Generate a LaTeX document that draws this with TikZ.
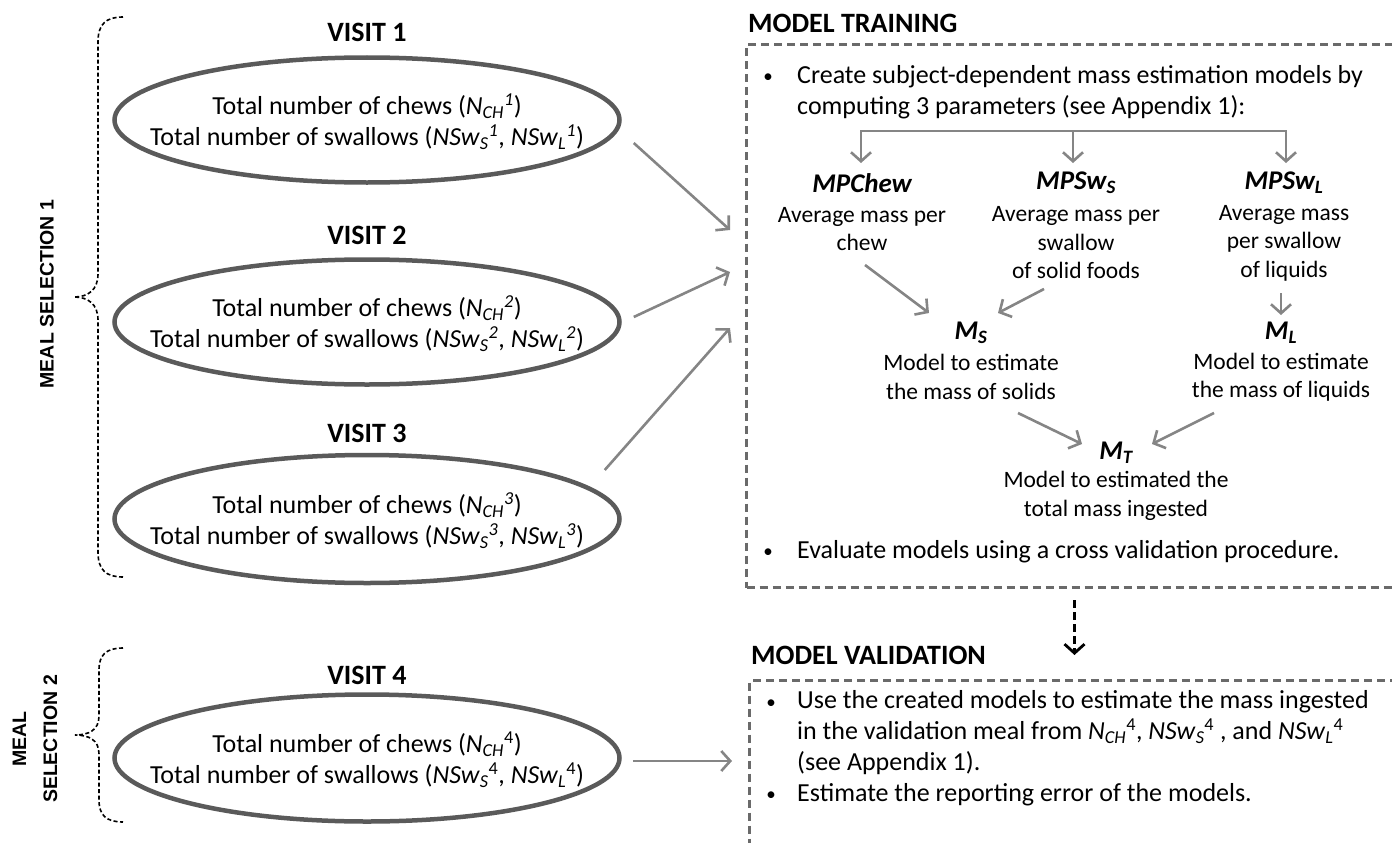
\documentclass[tikz,border=0pt]{standalone}
\usepackage{fontspec}
\setmainfont{Carlito}
\newfontfamily\arialfont{Liberation Sans}
\usetikzlibrary{arrows.meta,calc,shapes.geometric}
\definecolor{ellc}{HTML}{5A5A5A}
\definecolor{arrc}{HTML}{858585}
\definecolor{boxc}{HTML}{6A6A6A}
\newcommand\sbs[1]{\textsubscript{#1}}
\newcommand\sps[1]{\textsuperscript{#1}}
\begin{document}
\begin{tikzpicture}[x=1pt,y=-1pt,
 ttl/.style={font=\bfseries\fontsize{28}{33}\selectfont,inner sep=0pt},
 body/.style={font=\fontsize{26}{31}\selectfont,inner sep=0pt,align=left},
 bul/.style={font=\fontsize{19}{22}\selectfont,inner sep=0pt},
 etext/.style={font=\fontsize{26}{31}\selectfont,inner sep=0pt,align=center},
 lab/.style={font=\fontsize{23.5}{28.5}\selectfont,inner sep=0pt,align=center},
 hd/.style={font=\bfseries\itshape\fontsize{27}{32}\selectfont,inner sep=0pt},
 ell/.style={ellipse,draw=ellc,line width=4.5pt,minimum width=505pt,minimum height=125pt,inner sep=0pt},
 garr/.style={draw=arrc,line width=2.6pt,-{Straight Barb[length=9pt,width=20pt]}},
 garrboth/.style={draw=arrc,line width=2.6pt,{Straight Barb[length=9pt,width=20pt]}-{Straight Barb[length=9pt,width=20pt]}},
 darr/.style={draw=black,line width=2.8pt,dash pattern=on 8pt off 4pt,-{Straight Barb[length=9pt,width=20pt]}},
 dbox/.style={draw=boxc,line width=3pt,dash pattern=on 8pt off 5pt,inner sep=0pt,anchor=north west},
 brace/.style={draw=black,line width=1.6pt,dash pattern=on 4pt off 2.5pt},
 side/.style={font=\arialfont\bfseries\fontsize{19.5}{31}\selectfont,rotate=90,align=center,inner sep=0pt}
]
\path[use as bounding box] (0,0) rectangle (1392,843);
\clip (0,0) rectangle (1392,843);

% ---------- left column ----------
\node[side] (ms1) at (47,294) {MEAL SELECTION 1};
\node[side] (ms2) at (35,739) {MEAL\\SELECTION 2};

\draw[brace] (123,17) .. controls (106,17) and (98,24) .. (98,42) -- (98,274)
  .. controls (98,290) and (88,297) .. (74,297)
  .. controls (88,297) and (98,304) .. (98,320) -- (98,552)
  .. controls (98,570) and (106,577) .. (123,577);
\draw[brace] (123,648) .. controls (106,648) and (99,655) .. (99,670) -- (99,716)
  .. controls (99,730) and (89,735) .. (75,735)
  .. controls (89,735) and (99,740) .. (99,754) -- (99,800)
  .. controls (99,815) and (106,822) .. (123,822);

\node[ttl] (v1) at (367,32) {VISIT 1};
\node[ell] (e1) at (367,120) {};
\node[etext] (t1) at (367,122) {Total number of chews (\textit{N}\sbs{\textit{CH}}\sps{\textit{1}})\\Total number of swallows (\textit{NSw}\sbs{\textit{S}}\sps{\textit{1}}, \textit{NSw}\sbs{\textit{L}}\sps{\textit{1}})};

\node[ttl] (v2) at (367,235) {VISIT 2};
\node[ell] (e2) at (367,322) {};
\node[etext] (t2) at (367,324) {Total number of chews (\textit{N}\sbs{\textit{CH}}\sps{\textit{2}})\\Total number of swallows (\textit{NSw}\sbs{\textit{S}}\sps{\textit{2}}, \textit{NSw}\sbs{\textit{L}}\sps{\textit{2}})};

\node[ttl] (v3) at (367,433) {VISIT 3};
\node[ell,minimum height=128pt] (e3) at (367,519) {};
\node[etext] (t3) at (367,521) {Total number of chews (\textit{N}\sbs{\textit{CH}}\sps{\textit{3}})\\Total number of swallows (\textit{NSw}\sbs{\textit{S}}\sps{\textit{3}}, \textit{NSw}\sbs{\textit{L}}\sps{\textit{3}})};

\node[ttl] (v4) at (367,675) {VISIT 4};
\node[ell,minimum height=127pt] (e4) at (367,758) {};
\node[etext] (t4) at (367,760) {Total number of chews (\textit{N}\sbs{\textit{CH}}\sps{4})\\Total number of swallows (\textit{NSw}\sbs{\textit{S}}\sps{4}, \textit{NSw}\sbs{\textit{L}}\sps{4})};

% ---------- training box ----------
\node[ttl,anchor=west] (trt) at (748,23) {MODEL TRAINING};
\node[dbox,minimum width=656pt,minimum height=543pt] (train) at (745,43) {};

\node[bul] (b1) at (768,78) {•};
\node[body,anchor=west] (bt1) at (797,92.5) {Create subject-dependent mass estimation models by\\computing 3 parameters (see Appendix 1):};

\node[hd] (mpc) at (862,183) {MPChew};
\node[hd] (mps) at (1076,183) {MPSw\sbs{S}};
\node[hd] (mpl) at (1284,183) {MPSw\sbs{L}};
\node[lab] (mpcd) at (862,229) {Average mass per\\chew};
\node[lab] (mpsd) at (1076,243) {Average mass per\\swallow\\of solid foods};
\node[lab] (mpld) at (1284,243) {Average mass\\per swallow\\of liquids};

\draw[garrboth] ($(mpc)+(-1,-20)$) -- ($(mpc)+(-1,-52)$) -- ($(mpl)+(2,-52)$) -- ($(mpl)+(2,-20)$);
\draw[garr] ($(mps)+(-3,-52)$) -- ($(mps)+(-3,-20)$);

\node[hd] (msn) at (971,333) {M\sbs{S}};
\node[lab] (msd) at (971,377) {Model to estimate\\the mass of solids};
\node[hd] (mln) at (1281,333) {M\sbs{L}};
\node[lab] (mld) at (1281,377) {Model to estimate\\the mass of liquids};
\node[hd] (mtn) at (1116,453) {M\sbs{T}};
\node[lab] (mtd) at (1116,496) {Model to estimated the\\total mass ingested};

\draw[garr] ($(mpcd)+(3,36)$) -- ($(msn)+(-42,-20)$);
\draw[garr] ($(mpsd)+(-32,46)$) -- ($(msn)+(27,-20)$);
\draw[garr] ($(mpld)+(-3,50)$) -- ($(mln)+(0,-18)$);
\draw[garr] ($(msd)+(47,36)$) -- ($(mtn)+(-34,-9)$);
\draw[garr] ($(mld)+(-67,36)$) -- ($(mtn)+(36,-9)$);

\node[bul] (b2) at (768,553) {•};
\node[body,anchor=west] (bt2) at (797,552) {Evaluate models using a cross validation procedure.};

% ---------- validation box ----------
\node[ttl,anchor=west] (vat) at (751,655) {MODEL VALIDATION};
\node[dbox,minimum width=656pt,minimum height=220pt] (val) at (748,679) {};
\node[bul] (b3) at (771,704) {•};
\node[body,anchor=west] (bt3) at (797,733) {Use the created models to estimate the mass ingested\\in the validation meal from \textit{N}\sbs{\textit{CH}}\sps{4}, \textit{NSw}\sbs{\textit{S}}\sps{4} , and \textit{NSw}\sbs{\textit{L}}\sps{4}\\(see Appendix 1).};
\node[bul] (b4) at (771,796) {•};
\node[body,anchor=west] (bt4) at (797,795) {Estimate the reporting error of the models.};

% ---------- connectors ----------
\draw[garr] ($(e1.east)+(12,23)$) -- ($(train.north west)+(-15,187)$);
\draw[garr] ($(e2.east)+(12,-5)$) -- ($(train.north west)+(-15,229)$);
\draw[garr] ($(e3.east)+(-17,-49)$) -- ($(train.north west)+(-15,285)$);
\draw[garr] ($(e4.east)+(11,3)$) -- ($(val.north west)+(-16,82)$);
\draw[darr] ($(train.south)+(0,11)$) -- ($(train.south)+(0,66)$);
\end{tikzpicture}
\end{document}
